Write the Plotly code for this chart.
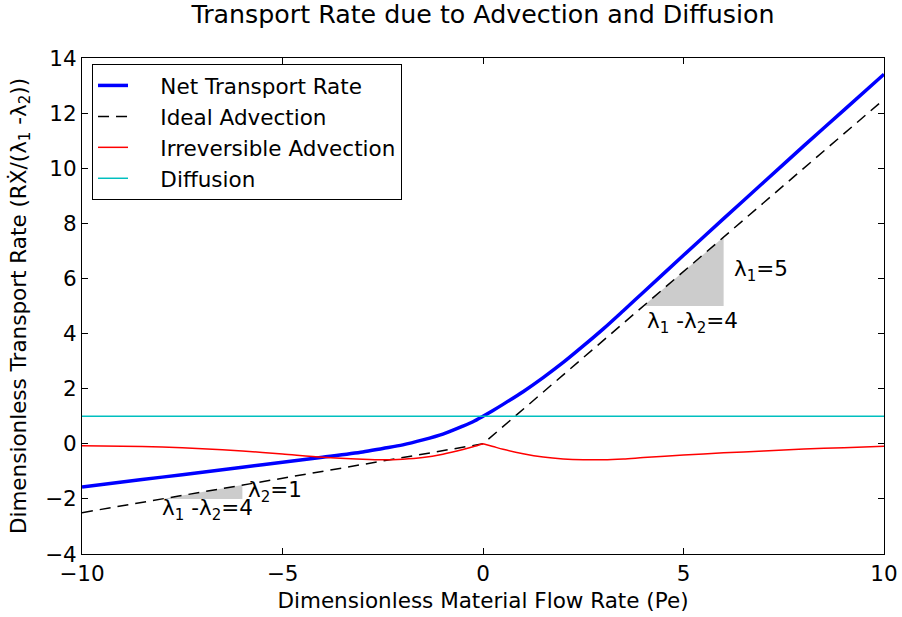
import plotly.graph_objects as go

# Dimensionless material flow rate (Pe) sample points
pe = [-10, -9, -8, -7, -6, -5, -4, -3, -2.5, -2, -1.5, -1, -0.5, -0.25, 0,
      0.25, 0.5, 1, 1.5, 2, 2.5, 3, 3.5, 4, 5, 6, 7, 8, 9, 10]

net_rate = [-1.57, -1.39, -1.21, -1.03, -0.85, -0.67, -0.49, -0.30, -0.17, -0.04, 0.14, 0.35, 0.64, 0.80, 1.00,
            1.21, 1.43, 1.89, 2.40, 2.95, 3.55, 4.17, 4.83, 5.50, 6.84, 8.17, 9.49, 10.81, 12.11, 13.41]

ideal_pe = [-10, 0, 10]
ideal_adv = [-2.5, 0.0, 12.5]

irr_pe_left = [-10, -9, -8, -7, -6, -5, -4, -3, -2.5, -2, -1.5, -1, -0.5, -0.25, 0]
irr_left = [-0.07, -0.09, -0.12, -0.18, -0.26, -0.37, -0.49, -0.56, -0.58, -0.56, -0.50, -0.38, -0.21, -0.11, 0.0]
irr_pe_right = [0, 0.25, 0.5, 1, 1.5, 2, 2.5, 3, 3.5, 4, 5, 6, 7, 8, 9, 10]
irr_right = [0.0, -0.10, -0.20, -0.36, -0.48, -0.55, -0.58, -0.58, -0.55, -0.50, -0.41, -0.33, -0.26, -0.19, -0.14, -0.09]

diff_pe = [-10, 10]
diffusion = [1.0, 1.0]

tri_hi_x = [4, 6, 6, 4]
tri_hi_y = [5, 5, 7.5, 5]
tri_lo_x = [-8, -6, -6, -8]
tri_lo_y = [-2, -2, -1.5, -2]

x_ticks = [-10, -5, 0, 5, 10]
y_ticks = [-4, -2, 0, 2, 4, 6, 8, 10, 12, 14]

FONT = "DejaVu Sans"
FS = 21.5
PAD = "\u00a0\u00a0\u00a0\u00a0"

fig = go.Figure()

for tx, ty in [(tri_hi_x, tri_hi_y), (tri_lo_x, tri_lo_y)]:
    fig.add_trace(go.Scatter(x=tx, y=ty, mode="lines", fill="toself",
                             fillcolor="#cccccc", line=dict(width=0),
                             showlegend=False, hoverinfo="skip"))

fig.add_trace(go.Scatter(x=pe, y=net_rate, mode="lines", name=PAD + "Net Transport Rate",
                         line=dict(color="#0000ff", width=3.5, shape="spline", smoothing=0.8)))
fig.add_trace(go.Scatter(x=ideal_pe, y=ideal_adv, mode="lines", name=PAD + "Ideal Advection",
                         line=dict(color="black", width=1.5, dash="11px,7px")))
fig.add_trace(go.Scatter(x=irr_pe_left + [None] + irr_pe_right,
                         y=irr_left + [None] + irr_right,
                         mode="lines", name=PAD + "Irreversible Advection", connectgaps=False,
                         line=dict(color="#ff0000", width=1.5, shape="spline", smoothing=0.8)))
fig.add_trace(go.Scatter(x=diff_pe, y=diffusion, mode="lines", name=PAD + "Diffusion",
                         line=dict(color="#00bfbf", width=1.5)))

ann_font = dict(family=FONT, size=FS, color="black")
annotations = [
    dict(x=6.2, y=6.3, text="λ<sub>1</sub>=5", xanchor="left", yanchor="middle"),
    dict(x=4.05, y=4.4, text="λ<sub>1</sub> -λ<sub>2</sub>=4", xanchor="left", yanchor="middle"),
    dict(x=-5.9, y=-1.72, text="λ<sub>2</sub>=1", xanchor="left", yanchor="middle"),
    dict(x=-8.05, y=-2.4, text="λ<sub>1</sub> -λ<sub>2</sub>=4", xanchor="left", yanchor="middle"),
]
for a in annotations:
    a.update(xref="x", yref="y", showarrow=False, font=ann_font)

axis_common = dict(showline=True, linecolor="black", linewidth=1, mirror="ticks",
                   ticks="inside", ticklen=6, tickwidth=1, tickcolor="black",
                   showgrid=False, zeroline=False, automargin=False,
                   tickfont=dict(family=FONT, size=FS, color="black"))

fig.update_layout(
    width=902, height=617,
    margin=dict(l=82, r=18, t=58, b=63),
    paper_bgcolor="white", plot_bgcolor="white",
    font=dict(family=FONT, color="black"),
    title=dict(text="Transport Rate due to Advection and Diffusion",
               x=0.5, xref="paper", y=0.977, yanchor="middle",
               font=dict(family=FONT, size=25.3, color="black")),
    xaxis=dict(range=[-10, 10], tickvals=x_ticks,
               title=dict(text="Dimensionless Material Flow Rate (Pe)",
                          font=dict(family=FONT, size=FS), standoff=8),
               **axis_common),
    yaxis=dict(range=[-4, 14], tickvals=y_ticks,
               title=dict(text="Dimensionless Transport Rate (RẊ/(λ<sub>1</sub> -λ<sub>2</sub>))",
                          font=dict(family=FONT, size=FS), standoff=12),
               **axis_common),
    legend=dict(x=0.0125, y=0.988, xanchor="left", yanchor="top",
                bordercolor="black", borderwidth=1, bgcolor="white",
                font=dict(family=FONT, size=FS, color="black"),
                tracegroupgap=0),
    annotations=annotations,
    showlegend=True,
)

fig.write_html("out.html", config={"displayModeBar": False},
               post_script="document.body.style.margin='0';")
